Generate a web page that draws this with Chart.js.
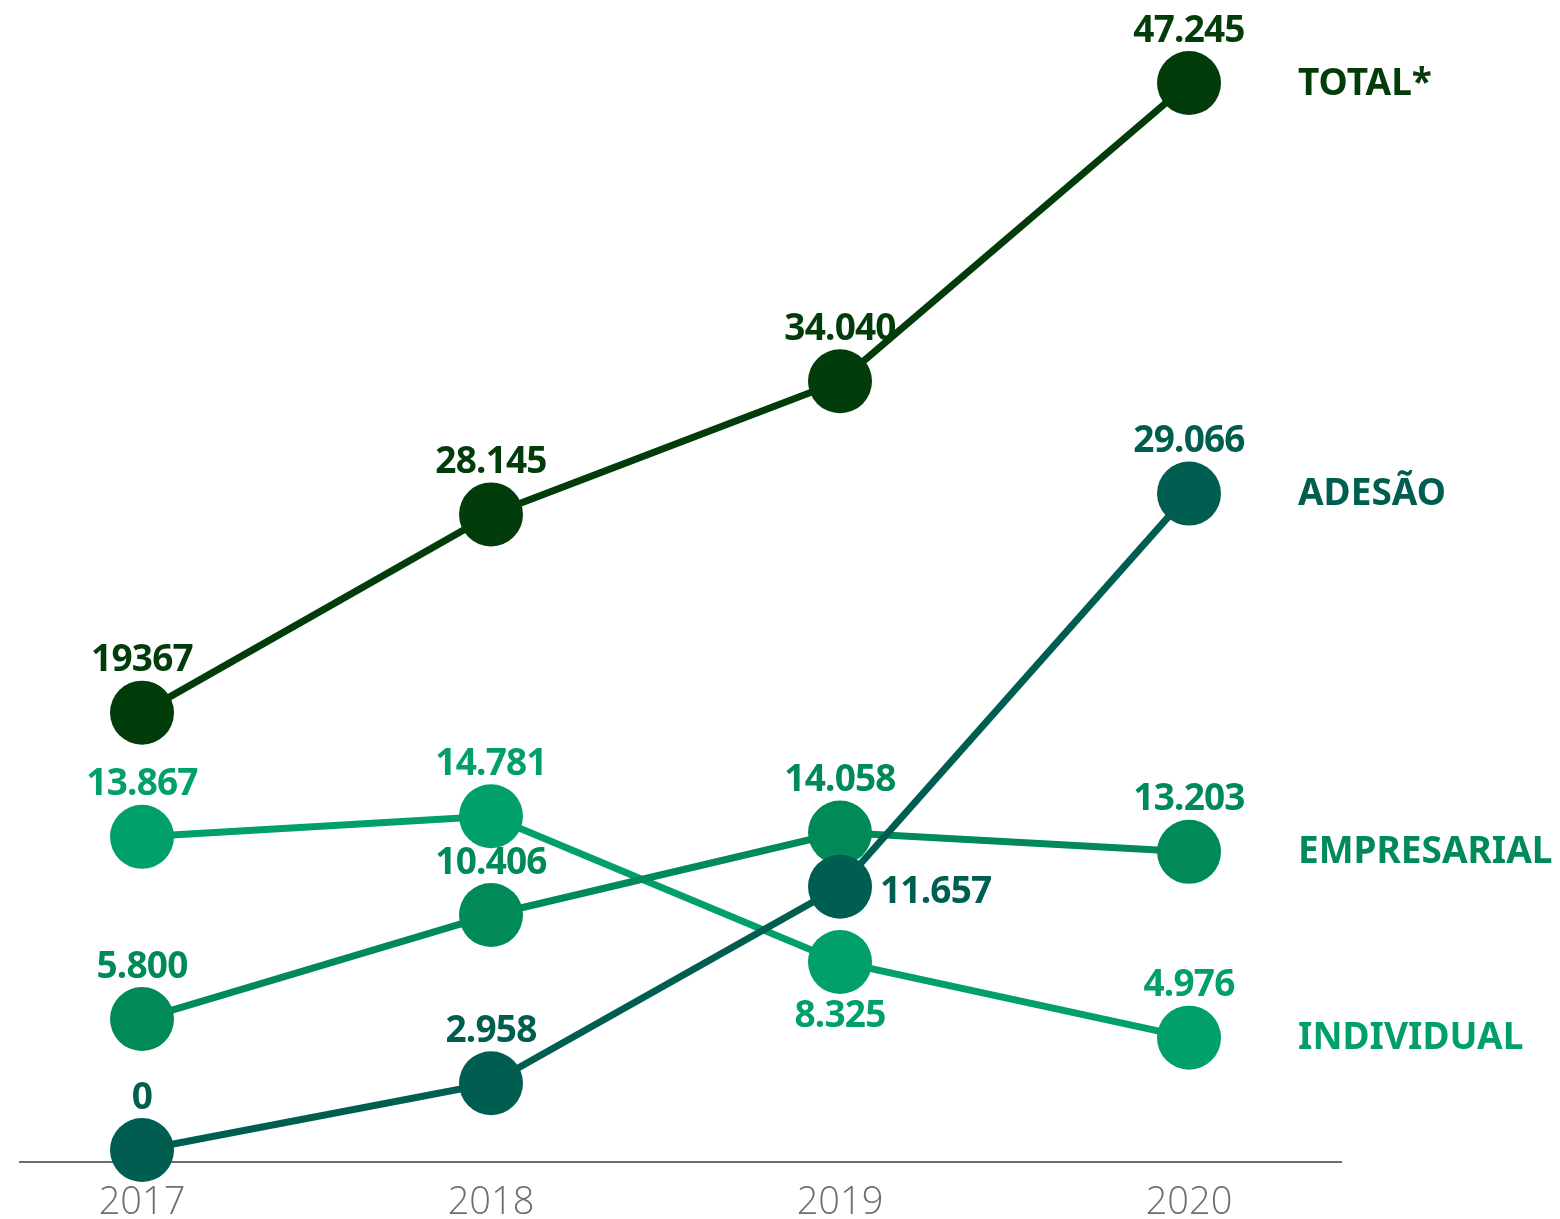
<!DOCTYPE html>
<html>
<head>
<meta charset="utf-8">
<script src="https://cdn.jsdelivr.net/npm/chart.js@4/dist/chart.umd.min.js"></script>
<style>
  html, body { margin: 0; padding: 0; background: #ffffff; }
  #wrap { width: 1560px; height: 1219px; position: relative; }
</style>
</head>
<body>
<div id="wrap"><canvas id="c" width="1560" height="1219"></canvas></div>
<script>
// ---- data ----
const years = [2017, 2018, 2019, 2020];

const seriesNames = ['TOTAL*', 'ADESÃO', 'EMPRESARIAL', 'INDIVIDUAL'];

const totalValues       = [19367, 28145, 34040, 47245];
const adesaoValues      = [0, 2958, 11657, 29066];
const empresarialValues = [5800, 10406, 14058, 13203];
const individualValues  = [13867, 14781, 8325, 4976];

const totalLabels       = ['19367', '28.145', '34.040', '47.245'];
const adesaoLabels      = ['0', '2.958', '11.657', '29.066'];
const empresarialLabels = ['5.800', '10.406', '14.058', '13.203'];
const individualLabels  = ['13.867', '14.781', '8.325', '4.976'];

const tickLabels = ['2017', '2018', '2019', '2020'];

// ---- styling ----
const colors = ['#023c0a', '#005e50', '#008a58', '#009f6b'];
const LABEL_FONT = 'bold 37px "Noto Sans", "DejaVu Sans", sans-serif';

// label placement tweaks where labels would overlap other marks
const labelPlacement = { '1-2': 'right', '3-2': 'below' };

function pts(vals) { return years.map((yr, i) => ({ x: yr, y: vals[i] })); }

const allValues = [totalValues, adesaoValues, empresarialValues, individualValues];
const allLabels = [totalLabels, adesaoLabels, empresarialLabels, individualLabels];

const datasets = allValues.map((vals, i) => ({
  label: seriesNames[i],
  data: pts(vals),
  valueLabels: allLabels[i],
  borderColor: colors[i],
  backgroundColor: colors[i],
  pointBackgroundColor: colors[i],
  pointBorderWidth: 0,
  pointRadius: 32,
  pointHoverRadius: 32,
  borderWidth: 7,
  tension: 0,
  clip: false
}));

const labelsPlugin = {
  id: 'labelsPlugin',
  afterDatasetsDraw(chart) {
    const ctx = chart.ctx;
    ctx.save();
    ctx.font = LABEL_FONT;
    chart.data.datasets.forEach((ds, di) => {
      const meta = chart.getDatasetMeta(di);
      ctx.fillStyle = ds.borderColor;
      try { ctx.letterSpacing = '-0.8px'; } catch (e) {}
      meta.data.forEach((pt, pi) => {
        const txt = ds.valueLabels[pi];
        const place = labelPlacement[di + '-' + pi] || 'above';
        ctx.textBaseline = 'middle';
        if (place === 'right') {
          ctx.textAlign = 'left';
          ctx.fillText(txt, pt.x + 40, pt.y + 6);
        } else if (place === 'below') {
          ctx.textAlign = 'center';
          ctx.fillText(txt, pt.x, pt.y + 54);
        } else {
          ctx.textAlign = 'center';
          ctx.fillText(txt, pt.x, pt.y - 52);
        }
      });
      // series name at the right of the last point
      try { ctx.letterSpacing = '0px'; } catch (e) {}
      const last = meta.data[meta.data.length - 1];
      ctx.textAlign = 'left';
      ctx.textBaseline = 'middle';
      ctx.fillText(ds.label, 1298, last.y + 1);
    });
    ctx.restore();
  }
};

new Chart(document.getElementById('c'), {
  type: 'line',
  data: { datasets },
  options: {
    responsive: false,
    animation: false,
    events: [],
    layout: { autoPadding: false, padding: { left: 20, right: 219, top: 0, bottom: 0 } },
    plugins: { legend: { display: false }, tooltip: { enabled: false } },
    scales: {
      x: {
        type: 'linear',
        min: 2016.6504,
        max: 2020.4355,
        afterBuildTicks(scale) { scale.ticks = years.map(v => ({ value: v })); },
        afterFit(scale) { scale.height = 57; },
        grid: { display: false, drawTicks: false },
        border: { display: true, color: '#6d6d75', width: 2 },
        ticks: {
          autoSkip: false,
          maxRotation: 0,
          padding: 18,
          color: '#6d6d75',
          font: { family: '"Open Sans", "Noto Sans", sans-serif', size: 38, weight: 300 },
          callback(v) { const i = years.indexOf(v); return i >= 0 ? tickLabels[i] : ''; }
        }
      },
      y: {
        type: 'linear',
        display: false,
        min: -531,
        max: 50922
      }
    }
  },
  plugins: [labelsPlugin]
});
</script>
</body>
</html>
